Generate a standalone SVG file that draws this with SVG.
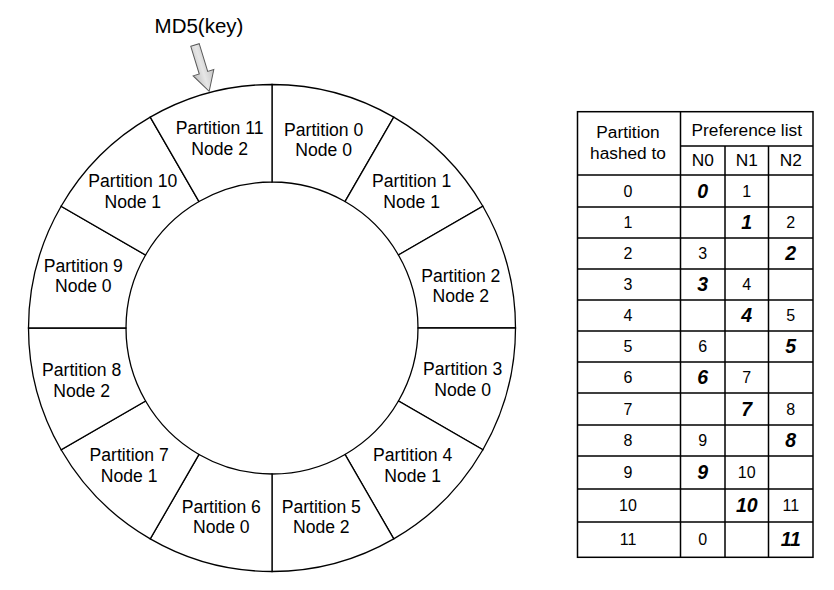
<svg xmlns="http://www.w3.org/2000/svg" width="834" height="590" viewBox="0 0 834 590">
<style>
.sec{fill:#fff;stroke:#000;stroke-width:1.3}
.lbl{font-family:"Liberation Sans",Arial,sans-serif;font-size:17.6px;fill:#000;text-anchor:middle}
.tl{stroke:#000;stroke-width:1.5;fill:none}
.th{font-family:"Liberation Sans",Arial,sans-serif;font-size:17.3px;fill:#000;text-anchor:middle}
.tn{font-family:"Liberation Sans",Arial,sans-serif;font-size:16px;fill:#000;text-anchor:middle}
.tb{font-family:"Liberation Sans",Arial,sans-serif;font-size:19.5px;font-weight:bold;font-style:italic;fill:#000;text-anchor:middle}
</style>
<defs>
<linearGradient id="ag" x1="0" y1="0" x2="1" y2="0">
<stop offset="0" stop-color="#bdbdbd"/>
<stop offset="0.5" stop-color="#e6e6e6"/>
<stop offset="1" stop-color="#c4c4c4"/>
</linearGradient>
</defs>
<rect width="834" height="590" fill="#fff"/>

<g id="ring">
<g id="p0"><path class="sec" d="M272,84.5 A243.5,243.5 0 0 1 393.75,117.12 L345,201.56 A146,146 0 0 0 272,182 Z"/><text class="lbl" x="323.7" y="135.5">Partition 0</text><text class="lbl" x="323.7" y="156.2">Node 0</text></g>
<g id="p1"><path class="sec" d="M393.75,117.12 A243.5,243.5 0 0 1 482.88,206.25 L398.44,255 A146,146 0 0 0 345,201.56 Z"/><text class="lbl" x="411.7" y="187.3">Partition 1</text><text class="lbl" x="411.7" y="208">Node 1</text></g>
<g id="p2"><path class="sec" d="M482.88,206.25 A243.5,243.5 0 0 1 515.5,328 L418,328 A146,146 0 0 0 398.44,255 Z"/><text class="lbl" x="460.8" y="281.7">Partition 2</text><text class="lbl" x="460.8" y="302.4">Node 2</text></g>
<g id="p3"><path class="sec" d="M515.5,328 A243.5,243.5 0 0 1 482.88,449.75 L398.44,401 A146,146 0 0 0 418,328 Z"/><text class="lbl" x="462.7" y="375">Partition 3</text><text class="lbl" x="462.7" y="395.7">Node 0</text></g>
<g id="p4"><path class="sec" d="M482.88,449.75 A243.5,243.5 0 0 1 393.75,538.88 L345,454.44 A146,146 0 0 0 398.44,401 Z"/><text class="lbl" x="412.7" y="461">Partition 4</text><text class="lbl" x="412.7" y="481.7">Node 1</text></g>
<g id="p5"><path class="sec" d="M393.75,538.88 A243.5,243.5 0 0 1 272,571.5 L272,474 A146,146 0 0 0 345,454.44 Z"/><text class="lbl" x="321.3" y="512.7">Partition 5</text><text class="lbl" x="321.3" y="533.4">Node 2</text></g>
<g id="p6"><path class="sec" d="M272,571.5 A243.5,243.5 0 0 1 150.25,538.88 L199,454.44 A146,146 0 0 0 272,474 Z"/><text class="lbl" x="221.3" y="512.7">Partition 6</text><text class="lbl" x="221.3" y="533.4">Node 0</text></g>
<g id="p7"><path class="sec" d="M150.25,538.88 A243.5,243.5 0 0 1 61.12,449.75 L145.56,401 A146,146 0 0 0 199,454.44 Z"/><text class="lbl" x="129.2" y="461">Partition 7</text><text class="lbl" x="129.2" y="481.7">Node 1</text></g>
<g id="p8"><path class="sec" d="M61.12,449.75 A243.5,243.5 0 0 1 28.5,328 L126,328 A146,146 0 0 0 145.56,401 Z"/><text class="lbl" x="81.7" y="376">Partition 8</text><text class="lbl" x="81.7" y="396.7">Node 2</text></g>
<g id="p9"><path class="sec" d="M28.5,328 A243.5,243.5 0 0 1 61.12,206.25 L145.56,255 A146,146 0 0 0 126,328 Z"/><text class="lbl" x="83.3" y="271.7">Partition 9</text><text class="lbl" x="83.3" y="292.4">Node 0</text></g>
<g id="p10"><path class="sec" d="M61.12,206.25 A243.5,243.5 0 0 1 150.25,117.12 L199,201.56 A146,146 0 0 0 145.56,255 Z"/><text class="lbl" x="132.8" y="187.3">Partition 10</text><text class="lbl" x="132.8" y="208">Node 1</text></g>
<g id="p11"><path class="sec" d="M150.25,117.12 A243.5,243.5 0 0 1 272,84.5 L272,182 A146,146 0 0 0 199,201.56 Z"/><text class="lbl" x="219.7" y="134">Partition 11</text><text class="lbl" x="219.7" y="154.7">Node 2</text></g>
</g>

<g id="md5">
<text x="199" y="33" font-family="Liberation Sans,Arial,sans-serif" font-size="20.5" text-anchor="middle">MD5(key)</text>
</g>

<g id="connectors">
<polygon transform="translate(195,45) rotate(-17)" points="-4.4,0 4.4,0 4.4,29 10.8,29 0,48.5 -10.8,29 -4.4,29" fill="url(#ag)" stroke="#5a5a5a" stroke-width="1" stroke-linejoin="miter"/>
</g>

<g id="table">
<rect class="tl" x="577.5" y="111.7" width="235.5" height="445.6"/>
<line class="tl" x1="680.5" y1="111.7" x2="680.5" y2="557.3"/>
<line class="tl" x1="725" y1="146" x2="725" y2="557.3"/>
<line class="tl" x1="768.5" y1="146" x2="768.5" y2="557.3"/>
<line class="tl" x1="680.5" y1="146" x2="813" y2="146"/>
<path class="tl" d="M577.5,175H813 M577.5,207H813 M577.5,238H813 M577.5,269H813 M577.5,300H813 M577.5,331H813 M577.5,362H813 M577.5,393H813 M577.5,425H813 M577.5,456H813 M577.5,489H813 M577.5,522H813"/>
<text class="th" x="628" y="138">Partition</text>
<text class="th" x="628" y="158.5">hashed to</text>
<text class="th" x="746.75" y="136">Preference list</text>
<text class="th" x="702.75" y="166">N0</text>
<text class="th" x="746.75" y="166">N1</text>
<text class="th" x="790.75" y="166">N2</text>

<text class="tn" x="628" y="196.8">0</text><text class="tb" x="702.75" y="197.5">0</text><text class="tn" x="746.75" y="196.8">1</text>
<text class="tn" x="628" y="228.3">1</text><text class="tb" x="746.75" y="229">1</text><text class="tn" x="790.75" y="228.3">2</text>
<text class="tn" x="628" y="259.3">2</text><text class="tn" x="702.75" y="259.3">3</text><text class="tb" x="790.75" y="260">2</text>
<text class="tn" x="628" y="290.3">3</text><text class="tb" x="702.75" y="291">3</text><text class="tn" x="746.75" y="290.3">4</text>
<text class="tn" x="628" y="321.3">4</text><text class="tb" x="746.75" y="322">4</text><text class="tn" x="790.75" y="321.3">5</text>
<text class="tn" x="628" y="352.3">5</text><text class="tn" x="702.75" y="352.3">6</text><text class="tb" x="790.75" y="353">5</text>
<text class="tn" x="628" y="383.3">6</text><text class="tb" x="702.75" y="384">6</text><text class="tn" x="746.75" y="383.3">7</text>
<text class="tn" x="628" y="414.8">7</text><text class="tb" x="746.75" y="415.5">7</text><text class="tn" x="790.75" y="414.8">8</text>
<text class="tn" x="628" y="446.3">8</text><text class="tn" x="702.75" y="446.3">9</text><text class="tb" x="790.75" y="447">8</text>
<text class="tn" x="628" y="478.3">9</text><text class="tb" x="702.75" y="479">9</text><text class="tn" x="746.75" y="478.3">10</text>
<text class="tn" x="628" y="511.3">10</text><text class="tb" x="746.75" y="512">10</text><text class="tn" x="790.75" y="511.3">11</text>
<text class="tn" x="628" y="545.3">11</text><text class="tn" x="702.75" y="545.3">0</text><text class="tb" x="790.75" y="546">11</text>
</g>
</svg>
